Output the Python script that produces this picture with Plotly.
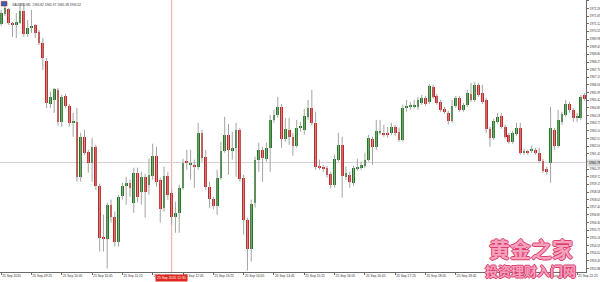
import plotly.graph_objects as go

# ---------------- data (XAUUSD M5, 25 Sep 2020, 08:45 .. 21:35) ----------------
opens = [
    1971.10, 1971.85, 1972.22, 1971.18, 1971.03, 1971.18, 1972.07, 1970.36, 1970.81, 1971.03,
    1970.51, 1969.69, 1968.35, 1965.15, 1965.45, 1966.19, 1963.81, 1965.75, 1965.00, 1963.74,
    1963.81, 1959.72, 1962.70, 1961.58, 1960.76, 1961.95, 1959.05, 1955.26, 1955.11, 1957.64,
    1956.75, 1954.89, 1958.31, 1959.05, 1959.27, 1957.79, 1960.02, 1958.61, 1959.72, 1959.13,
    1959.80, 1961.28, 1959.50, 1957.41, 1959.80, 1958.53, 1956.75, 1957.04, 1958.90, 1960.84,
    1960.61, 1960.61, 1960.47, 1962.99, 1961.21, 1958.98, 1958.08, 1957.56, 1959.65, 1961.66,
    1962.85, 1961.66, 1961.88, 1963.22, 1959.65, 1956.52, 1954.36, 1957.79, 1960.99, 1961.73,
    1961.06, 1961.88, 1963.96, 1964.33, 1964.93, 1962.55, 1963.22, 1962.70, 1962.03, 1963.37,
    1963.22, 1964.19, 1964.85, 1963.74, 1960.47, 1960.47, 1960.39, 1959.94, 1959.13, 1960.99,
    1962.10, 1959.72, 1959.87, 1959.27, 1960.32, 1960.39, 1960.54, 1960.99, 1962.55, 1961.95,
    1962.99, 1962.99, 1962.99, 1962.99, 1963.44, 1963.07, 1962.47, 1964.85, 1964.93, 1964.93,
    1964.93, 1965.23, 1965.60, 1965.30, 1966.42, 1965.75, 1965.30, 1964.78, 1964.48, 1963.89,
    1965.00, 1965.60, 1964.71, 1965.08, 1965.90, 1965.45, 1966.57, 1965.97, 1965.45, 1963.29,
    1962.62, 1963.81, 1964.26, 1963.44, 1962.85, 1962.33, 1962.92, 1963.37, 1961.51, 1961.58,
    1961.66, 1961.73, 1961.51, 1960.91, 1960.32, 1960.76, 1963.22, 1962.03, 1963.81, 1964.33,
    1965.15, 1964.71, 1964.11, 1964.11, 1965.82,
]
highs = [
    1972.15, 1972.44, 1972.29, 1971.25, 1971.92, 1972.67, 1972.67, 1971.40, 1972.15, 1971.10,
    1970.66, 1970.06, 1968.57, 1966.05, 1966.34, 1966.34, 1965.82, 1965.90, 1965.15, 1964.48,
    1964.85, 1962.99, 1963.22, 1961.73, 1962.62, 1962.10, 1959.20, 1956.89, 1957.79, 1958.01,
    1957.12, 1958.38, 1959.27, 1959.72, 1959.50, 1960.39, 1960.39, 1960.09, 1959.94, 1961.06,
    1962.18, 1961.95, 1959.65, 1960.47, 1960.09, 1958.75, 1957.86, 1959.13, 1961.06, 1961.73,
    1961.73, 1960.99, 1963.74, 1963.22, 1961.73, 1959.35, 1958.23, 1960.24, 1962.33, 1964.19,
    1963.66, 1963.07, 1963.74, 1963.37, 1959.87, 1956.67, 1958.01, 1961.21, 1962.25, 1961.95,
    1962.25, 1964.33, 1964.71, 1965.67, 1965.15, 1964.11, 1964.11, 1962.99, 1963.96, 1963.81,
    1964.78, 1965.45, 1966.19, 1964.56, 1960.99, 1960.61, 1960.54, 1960.09, 1961.36, 1962.99,
    1962.70, 1960.47, 1960.09, 1960.54, 1961.06, 1960.84, 1961.51, 1962.85, 1962.70, 1963.96,
    1963.96, 1963.59, 1963.44, 1963.74, 1963.59, 1963.37, 1965.08, 1965.45, 1965.30, 1965.45,
    1965.67, 1965.82, 1965.75, 1966.64, 1966.57, 1965.90, 1965.45, 1964.93, 1964.63, 1965.45,
    1965.75, 1965.75, 1965.23, 1966.19, 1966.71, 1966.79, 1966.71, 1966.57, 1965.60, 1963.44,
    1964.04, 1964.48, 1964.48, 1963.59, 1962.99, 1963.14, 1963.74, 1963.74, 1961.80, 1961.73,
    1962.03, 1961.88, 1961.88, 1961.06, 1960.47, 1964.93, 1963.37, 1964.71, 1964.56, 1965.45,
    1965.30, 1964.85, 1964.48, 1965.82, 1965.97,
]
lows = [
    1970.96, 1971.70, 1971.03, 1970.14, 1970.06, 1971.10, 1970.14, 1970.14, 1970.43, 1970.06,
    1969.54, 1967.68, 1964.85, 1964.85, 1964.48, 1963.52, 1963.44, 1964.85, 1963.44, 1962.70,
    1959.35, 1959.35, 1961.36, 1960.02, 1959.35, 1958.75, 1954.14, 1954.14, 1952.88, 1956.30,
    1954.51, 1954.51, 1958.01, 1957.64, 1958.23, 1957.04, 1957.79, 1957.64, 1956.67, 1958.38,
    1959.50, 1958.98, 1956.30, 1957.12, 1958.01, 1956.15, 1955.55, 1955.55, 1958.75, 1960.24,
    1959.50, 1958.90, 1960.24, 1960.84, 1958.75, 1957.41, 1957.27, 1956.89, 1959.50, 1961.51,
    1959.87, 1960.99, 1959.72, 1959.35, 1955.41, 1952.73, 1953.40, 1957.41, 1960.09, 1959.35,
    1960.84, 1960.09, 1963.74, 1964.11, 1961.88, 1962.33, 1962.10, 1961.28, 1961.88, 1963.07,
    1962.85, 1963.96, 1963.52, 1960.24, 1960.24, 1960.09, 1959.65, 1958.83, 1958.90, 1960.84,
    1958.16, 1959.50, 1958.90, 1959.05, 1960.17, 1960.24, 1960.39, 1960.84, 1960.61, 1961.73,
    1962.85, 1962.70, 1962.62, 1962.85, 1962.77, 1962.33, 1962.33, 1964.56, 1964.71, 1964.78,
    1964.71, 1965.08, 1965.00, 1965.15, 1965.52, 1965.08, 1964.56, 1964.41, 1963.59, 1963.74,
    1964.85, 1964.56, 1964.56, 1964.93, 1965.30, 1965.30, 1965.67, 1965.15, 1962.99, 1961.95,
    1962.47, 1963.66, 1963.29, 1962.55, 1962.18, 1962.18, 1962.77, 1961.36, 1961.36, 1961.36,
    1961.51, 1961.36, 1960.76, 1960.02, 1959.87, 1959.27, 1961.73, 1961.88, 1963.59, 1964.19,
    1964.48, 1963.81, 1963.81, 1963.96, 1965.38,
]
closes = [
    1971.92, 1972.29, 1971.18, 1971.03, 1971.25, 1972.07, 1970.36, 1970.81, 1970.96, 1970.43,
    1969.69, 1968.57, 1965.23, 1965.67, 1966.27, 1963.81, 1965.67, 1965.00, 1963.74, 1963.89,
    1959.72, 1962.70, 1961.51, 1960.76, 1961.95, 1959.05, 1955.18, 1955.11, 1957.64, 1956.75,
    1954.89, 1958.23, 1959.05, 1959.27, 1958.90, 1960.02, 1958.23, 1959.72, 1958.61, 1959.87,
    1961.28, 1959.35, 1957.34, 1959.80, 1958.38, 1956.75, 1957.04, 1958.90, 1960.76, 1960.76,
    1960.76, 1960.47, 1962.99, 1961.13, 1958.98, 1958.08, 1957.56, 1959.65, 1961.66, 1962.85,
    1961.73, 1961.88, 1963.22, 1959.57, 1956.52, 1954.36, 1957.71, 1960.99, 1961.73, 1961.13,
    1961.88, 1963.96, 1964.33, 1964.93, 1962.55, 1963.29, 1962.70, 1962.03, 1963.37, 1963.52,
    1964.26, 1964.85, 1963.74, 1960.47, 1960.39, 1960.32, 1959.87, 1959.13, 1961.06, 1962.10,
    1959.80, 1960.02, 1959.35, 1960.39, 1960.47, 1960.61, 1960.99, 1962.62, 1961.95, 1963.14,
    1963.07, 1962.85, 1962.85, 1963.44, 1962.99, 1962.47, 1964.85, 1964.93, 1965.00, 1965.08,
    1965.45, 1965.60, 1965.15, 1966.49, 1965.67, 1965.23, 1964.71, 1964.56, 1963.89, 1965.00,
    1965.60, 1964.71, 1965.08, 1965.97, 1965.45, 1966.57, 1965.82, 1965.30, 1963.29, 1962.62,
    1963.89, 1964.19, 1963.44, 1962.70, 1962.33, 1962.99, 1963.37, 1961.51, 1961.66, 1961.51,
    1961.80, 1961.51, 1960.91, 1960.17, 1960.09, 1963.37, 1962.03, 1963.96, 1964.41, 1965.15,
    1964.71, 1964.11, 1964.19, 1965.67, 1965.52,
]

time_tick_index = [0, 8, 16, 24, 32, 40, 48, 56, 64, 72, 80, 88, 96, 104, 112, 120, 128, 136, 144, 152]
time_tick_text = [
    "25 Sep 2020", "25 Sep 09:25", "25 Sep 10:05", "25 Sep 10:45", "25 Sep 11:25",
    "25 Sep 12:05", "25 Sep 12:45", "25 Sep 13:25", "25 Sep 14:05", "25 Sep 14:45",
    "25 Sep 15:25", "25 Sep 16:05", "25 Sep 16:45", "25 Sep 17:25", "25 Sep 18:05",
    "25 Sep 18:45", "25 Sep 19:25", "25 Sep 20:05", "25 Sep 20:45", "25 Sep 21:25",
]
price_ticks = [
    1952.88, 1953.45, 1954.02, 1954.59, 1955.16, 1955.73, 1956.30, 1956.87, 1957.44,
    1958.01, 1958.58, 1959.15, 1959.72, 1960.29, 1960.86, 1961.43, 1962.00, 1962.57,
    1963.14, 1963.71, 1964.28, 1964.85, 1965.42, 1965.99, 1966.56, 1967.13, 1967.70,
    1968.27, 1968.84, 1969.41, 1969.98, 1970.55, 1971.12, 1971.69, 1972.26, 1972.83,
]

crosshair_index = 45
crosshair_time = "25 Sep 2020 12:30"
crosshair_price = 1960.78

header_text = "XAUUSD,M5  1965.82 1965.97 1965.38 1965.52"
watermark_main = "黄金之家"
watermark_sub = "投资理财入门网"

# ---------------- styles ----------------
UP = "#1c7c1c"
DOWN = "#d81e1e"
WICK = "#a3a3a3"
AXIS = "#6a6a6a"
TXT = "#333333"

idx = list(range(len(opens)))

wick_x, wick_y = [], []
for i, (h, l) in enumerate(zip(highs, lows)):
    wick_x += [i, i, None]
    wick_y += [l, h, None]

body_base = [min(o, c) for o, c in zip(opens, closes)]
body_len = [max(abs(c - o), 0.07) for o, c in zip(opens, closes)]
body_col = [UP if c >= o else DOWN for o, c in zip(opens, closes)]

fig = go.Figure()
fig.add_trace(go.Scatter(x=wick_x, y=wick_y, mode="lines",
                         line=dict(color=WICK, width=1), hoverinfo="skip"))
fig.add_trace(go.Bar(x=idx, y=body_len, base=body_base, width=0.74,
                     marker=dict(color=body_col, line=dict(width=0))))

# crosshair
fig.add_shape(type="line", xref="x", yref="paper", x0=crosshair_index, x1=crosshair_index,
              y0=0, y1=1, line=dict(color="#f2a3a3", width=1), layer="below")
fig.add_shape(type="line", xref="paper", yref="y", x0=0, x1=1,
              y0=crosshair_price, y1=crosshair_price, line=dict(color="#d8d0d0", width=1),
              layer="below")

fig.add_annotation(x=crosshair_index, xref="x", y=0, yref="paper", yanchor="top",
                   xanchor="center",
                   text=crosshair_time, showarrow=False, bgcolor="#e0281f",
                   font=dict(size=3.4, color="white", family="Liberation Sans"),
                   borderpad=1, yshift=-2)
fig.add_annotation(x=1, xref="paper", xanchor="left", y=crosshair_price, yref="y",
                   yanchor="middle",
                   text=f"{crosshair_price:.2f}", showarrow=False, bgcolor="#d6d6d6",
                   font=dict(size=3.2, color="#111", family="Liberation Sans"),
                   borderpad=1, xshift=1)

# header: small flag icon + symbol line
fig.add_shape(type="rect", xref="paper", yref="paper", x0=0.002, x1=0.012, y0=0.978, y1=0.995,
              fillcolor="#3a5fb0", line=dict(color="#b03030", width=0.6))
fig.add_annotation(x=0.017, xref="paper", xanchor="left", y=1, yref="paper", yanchor="top",
                   text=header_text, showarrow=False,
                   font=dict(size=3.2, color=TXT, family="Liberation Sans"), yshift=-1)

# watermark
outline_main = "1px 0 0 #dc3f6f, -1px 0 0 #dc3f6f, 0 1px 0 #dc3f6f, 0 -1px 0 #dc3f6f"
fig.add_annotation(x=0.906, xref="paper", xanchor="center", y=0.088, yref="paper",
                   yanchor="middle", text=watermark_main, showarrow=False,
                   font=dict(size=21, color="#f6a1bd", family="Noto Sans CJK SC",
                             weight="bold", shadow=outline_main))
fig.add_annotation(x=0.906, xref="paper", xanchor="center", y=0.004, yref="paper",
                   yanchor="middle", text=watermark_sub, showarrow=False,
                   font=dict(size=13, color="#f6a1bd", family="Noto Sans CJK SC",
                             weight="bold", shadow=outline_main))

fig.update_layout(
    width=600, height=282,
    margin=dict(l=0, r=14, t=0, b=10),
    paper_bgcolor="white", plot_bgcolor="white",
    showlegend=False, bargap=0, hovermode=False,
    xaxis=dict(range=[-0.3, 154.35], tickvals=time_tick_index, ticktext=time_tick_text,
               ticklabelposition="outside right", showgrid=False, zeroline=False,
               showline=True, linecolor=AXIS, linewidth=1, ticks="outside", ticklen=2,
               tickcolor=AXIS, tickfont=dict(size=3.3, color=TXT, family="Liberation Sans"),
               automargin=False),
    yaxis=dict(side="right", range=[1952.62, 1972.89], tickvals=price_ticks,
               ticktext=[f"{v:.2f}" for v in price_ticks], showgrid=False, zeroline=False,
               showline=True, linecolor=AXIS, linewidth=1, ticks="outside", ticklen=2,
               tickcolor=AXIS, tickfont=dict(size=3.1, color=TXT, family="Liberation Sans"),
               automargin=False),
)

fig.write_html("out.html")
